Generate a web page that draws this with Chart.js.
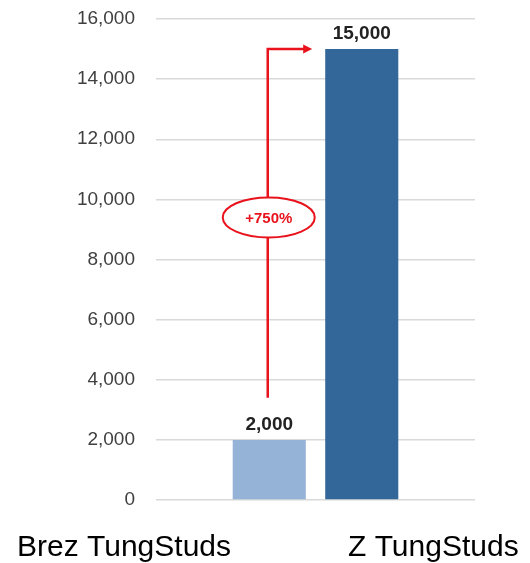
<!DOCTYPE html>
<html>
<head>
<meta charset="utf-8">
<script src="https://cdn.jsdelivr.net/npm/chart.js@4.4.1/dist/chart.umd.min.js"></script>
<style>
  html, body { margin: 0; padding: 0; background: #fff; }
  canvas { display: block; }
</style>
</head>
<body>
<canvas id="chart" width="530" height="563"></canvas>
<script>
// Data
const categories = ['Brez TungStuds', 'Z TungStuds'];
const values = [2000, 15000];
const barColors = ['#95B3D7', '#336699'];
const yMax = 16000;
const yStep = 2000;
const increaseLabel = '+750%';
const arrowStart = 3400;   // where the red arrow leaves the small bar
const ellipseAt = 9400;    // value where the % bubble sits

const FONT = '"Liberation Sans", Arial, sans-serif';
const RED = '#E8131C';

// Value labels, arrow, bubble and category names
const annotate = {
  id: 'annotate',
  afterDatasetsDraw(chart) {
    const ctx = chart.ctx;
    const y = chart.scales.y;
    const bars = chart.data.datasets.map((d, i) => chart.getDatasetMeta(i).data[0]);

    // value labels above bars
    ctx.save();
    ctx.fillStyle = '#222';
    ctx.font = 'bold 19px ' + FONT;
    ctx.textAlign = 'center';
    ctx.textBaseline = 'alphabetic';
    bars.forEach((b, i) => {
      ctx.fillText(values[i].toLocaleString('en-US'), b.x, b.y - 10);
    });
    ctx.restore();

    // red arrow from small bar to big bar
    const x0 = bars[0].x - 1.5;
    const yTop = y.getPixelForValue(values[1]);
    const yBot = y.getPixelForValue(arrowStart);
    const xTip = bars[1].x - bars[1].width / 2 - 13;
    ctx.save();
    ctx.strokeStyle = RED;
    ctx.fillStyle = RED;
    ctx.lineWidth = 2.5;
    ctx.beginPath();
    ctx.moveTo(x0, yBot);
    ctx.lineTo(x0, yTop);
    ctx.lineTo(xTip - 7, yTop);
    ctx.stroke();
    ctx.beginPath();
    ctx.moveTo(xTip, yTop);
    ctx.lineTo(xTip - 9, yTop - 4.5);
    ctx.lineTo(xTip - 9, yTop + 4.5);
    ctx.closePath();
    ctx.fill();

    // percentage bubble
    const ey = y.getPixelForValue(ellipseAt);
    ctx.beginPath();
    ctx.ellipse(x0 + 1, ey, 46, 20, 0, 0, Math.PI * 2);
    ctx.fillStyle = '#fff';
    ctx.fill();
    ctx.lineWidth = 2;
    ctx.stroke();
    ctx.fillStyle = RED;
    ctx.font = 'bold 15px ' + FONT;
    ctx.textAlign = 'center';
    ctx.textBaseline = 'middle';
    ctx.fillText(increaseLabel, x0 + 1, ey + 1);
    ctx.restore();

    // category names under the chart
    ctx.save();
    ctx.fillStyle = '#000';
    ctx.font = '30px ' + FONT;
    ctx.textAlign = 'left';
    ctx.textBaseline = 'alphabetic';
    ctx.fillText(categories[0], 17, 556);
    ctx.fillText(categories[1], 348, 556);
    ctx.restore();
  }
};

const chart = new Chart(document.getElementById('chart'), {
  type: 'bar',
  data: {
    labels: [''],
    datasets: categories.map((c, i) => ({
      label: c,
      data: [values[i]],
      backgroundColor: barColors[i],
      barPercentage: 0.79,
      categoryPercentage: 0.58
    }))
  },
  options: {
    responsive: false,
    animation: false,
    devicePixelRatio: 1,
    layout: { padding: { top: 19, right: 55, bottom: 63, left: 0 } },
    plugins: { legend: { display: false }, tooltip: { enabled: false } },
    scales: {
      x: { display: false },
      y: {
        min: 0,
        max: yMax,
        ticks: {
          stepSize: yStep,
          padding: 0,
          color: '#404040',
          font: { family: FONT, size: 19 },
          callback: v => v.toLocaleString('en-US')
        },
        grid: { color: '#d9d9d9', lineWidth: 1.5, drawTicks: true, tickLength: 21, tickColor: 'rgba(0,0,0,0)' },
        border: { display: false },
        afterFit: s => { s.width = 156; }
      }
    }
  },
  plugins: [annotate]
});
</script>
</body>
</html>
